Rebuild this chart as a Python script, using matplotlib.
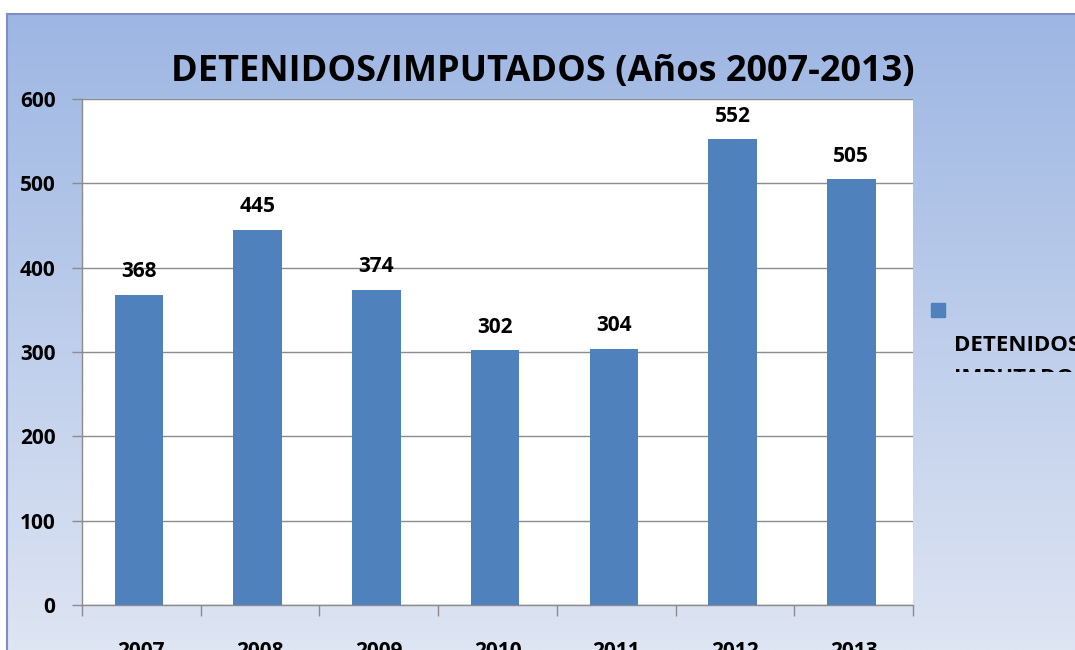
import numpy as np
import matplotlib.pyplot as plt
from matplotlib.patches import Rectangle
import matplotlib.colors as mcolors

years = ["2007", "2008", "2009", "2010", "2011", "2012", "2013"]
values = [368, 445, 374, 302, 304, 552, 505]
yticks = [0, 100, 200, 300, 400, 500, 600]
title = "DETENIDOS/IMPUTADOS (Años 2007-2013)"
legend_label = ["DETENIDOS/", "IMPUTADOS"]

W, H = 1075, 650
fig = plt.figure(figsize=(W / 100, H / 100), dpi=100)
fig.patch.set_facecolor("white")
FONT = "Open Sans"
FS = 15

def fx(x):
    return x / W

def fy(y):
    return 1 - y / H

# background gradient
bg = fig.add_axes([fx(7), 0, 1 - fx(7), fy(14)])
bg.set_axis_off()
top = np.array(mcolors.to_rgb("#9db6e3"))
bot = np.array(mcolors.to_rgb("#dee5f3"))
t = np.linspace(0, 1, 256)[:, None]
grad = top * (1 - t) + bot * t
bg.imshow(grad[:, None, :].repeat(2, axis=1), aspect="auto", extent=[0, 1, 0, 1], origin="upper")
bg.set_xlim(0, 1)
bg.set_ylim(0, 1)
fig.add_artist(plt.Line2D([fx(7), fx(7)], [0, fy(14)], color="#7f8fc6", lw=1.5))
fig.add_artist(plt.Line2D([fx(7), 1], [fy(14), fy(14)], color="#7f8fc6", lw=1.5))

# plot area
ax = fig.add_axes([fx(82), fy(605), fx(913) - fx(82), fy(99) - fy(605)])
ax.set_facecolor("white")
x = np.arange(len(years))
ax.bar(x - 0.02, values, width=0.41, color="#4f81bd", zorder=3)
ax.set_xlim(-0.5, len(years) - 0.5)
ax.set_ylim(0, 600)
ax.set_yticks(yticks)
ax.set_yticklabels([str(v) for v in yticks], fontsize=FS, fontweight="bold", family=FONT)
ax.yaxis.grid(True, color="#8c8c8c", lw=1, zorder=0)
ax.set_xticks(np.arange(len(years) + 1) - 0.5)
ax.set_xticklabels([])
ax.set_xticks(x, minor=True)
ax.set_xticklabels(years, minor=True, fontsize=FS, fontweight="bold", family=FONT)
ax.tick_params(axis="x", which="minor", length=0, pad=26)
ax.tick_params(axis="x", which="major", length=8, color="#8c8c8c", width=1)
ax.tick_params(axis="y", length=7, color="#8c8c8c", width=1, pad=12)
for s in ["top", "right"]:
    ax.spines[s].set_visible(False)
for s in ["left", "bottom"]:
    ax.spines[s].set_color("#8c8c8c")
    ax.spines[s].set_linewidth(1)

for xi, v in zip(x, values):
    ax.annotate(str(v), (xi - 0.02, v), xytext=(0, 9), textcoords="offset points",
                ha="center", va="bottom", fontsize=FS, fontweight="bold", family=FONT)

fig.text(fx(543), fy(72), title, ha="center", va="center", fontsize=26,
         fontweight="bold", family=FONT)

# legend
fig.add_artist(Rectangle((fx(931), fy(317)), fx(14), fy(303) - fy(317),
                         transform=fig.transFigure, color="#4f81bd"))
fig.text(fx(954), fy(346), legend_label[0], ha="left", va="center", fontsize=16,
         fontweight="bold", family=FONT)
clip = Rectangle((fx(940), fy(372)), fx(140), fy(360) - fy(372), transform=fig.transFigure,
                 facecolor="none", edgecolor="none")
fig.add_artist(clip)
t2 = fig.text(fx(954), fy(379), legend_label[1], ha="left", va="center", fontsize=16,
              fontweight="bold", family=FONT)
t2.set_clip_path(clip)

fig.savefig("out.png", dpi=100)
